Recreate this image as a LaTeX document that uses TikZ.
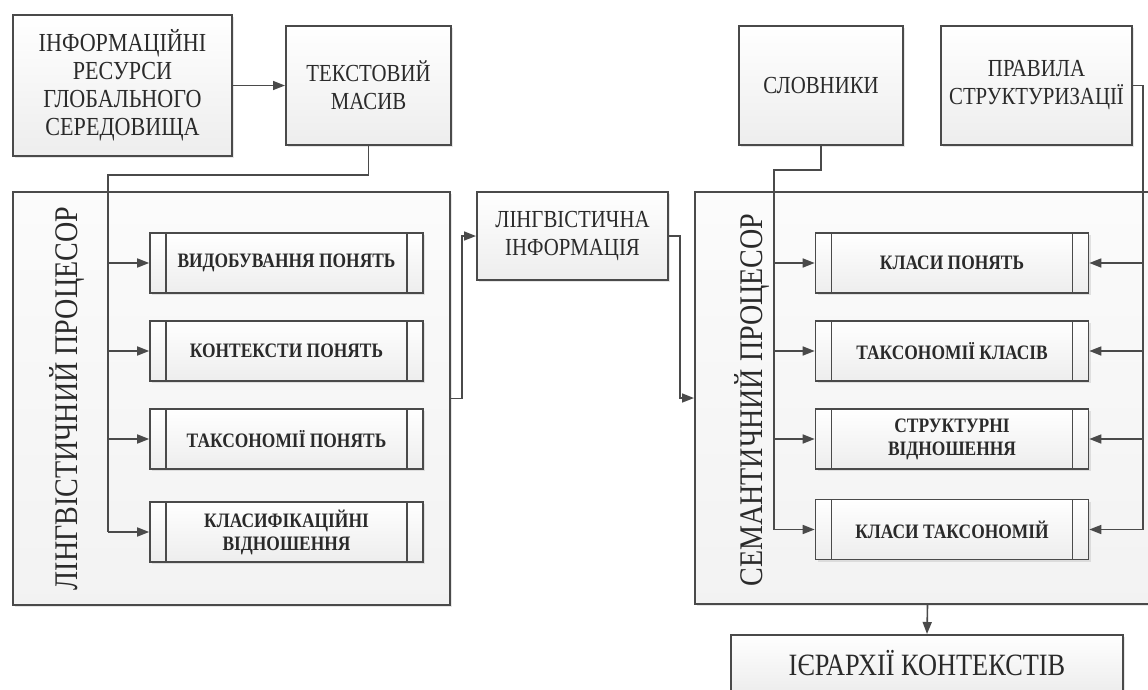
\documentclass[tikz,border=0pt]{standalone}
\usepackage{fontspec}
\setmainfont[FakeStretch=0.85]{Liberation Serif}
\usetikzlibrary{positioning, arrows.meta, shadows}

\definecolor{linegray}{HTML}{4A4A4A}
\definecolor{textgray}{HTML}{2A2A2A}

\begin{document}
\begin{tikzpicture}[
    x=1pt, y=-1pt,
    block/.style={
        rectangle,
        draw=linegray,
        line width=2pt,
        top color=white,
        bottom color=gray!14,
        drop shadow={opacity=0.2, shadow xshift=2pt, shadow yshift=-2pt},
        text=textgray,
        align=center,
        inner sep=2pt,
        font=\fontsize{24.5}{28}\selectfont
    },
    frame/.style={
        rectangle,
        draw=linegray,
        line width=2pt,
        top color=gray!3,
        bottom color=gray!10,
        drop shadow={opacity=0.2, shadow xshift=2pt, shadow yshift=-2pt}
    },
    process/.style={
        block,
        line width=1.6pt,
        minimum width=273, minimum height=60,
        font=\fontsize{20.5}{23}\selectfont\bfseries,
        path picture={
            \draw[linegray, line width=1.4pt]
                ([xshift=16pt]path picture bounding box.north west) -- ([xshift=16pt]path picture bounding box.south west)
                ([xshift=-16pt]path picture bounding box.north east) -- ([xshift=-16pt]path picture bounding box.south east);
        }
    },
    vtitle/.style={rotate=90, text=textgray, font=\fontsize{33}{35}\selectfont},
    wire/.style={line width=1.6pt, draw=linegray},
    arrow/.style={wire, -{Triangle[length=12pt, width=9pt]}}
]
\useasboundingbox (0,0) rectangle (1148,689);

% === Top row: sources ===
\node[block, minimum width=219, minimum height=141, font=\fontsize{26}{28}\selectfont] (info) at (122.5, 85.5) {ІНФОРМАЦІЙНІ\\РЕСУРСИ\\ГЛОБАЛЬНОГО\\СЕРЕДОВИЩА};
\node[block, minimum width=165, minimum height=119] (txt) at (368.5, 85.5) {ТЕКСТОВИЙ\\МАСИВ};
\node[block, minimum width=164, minimum height=119] (dict) at (821, 85.5) {СЛОВНИКИ};
\node[block, minimum width=191, minimum height=119] (rules) at (1036.5, 85.5) {ПРАВИЛА\\СТРУКТУРИЗАЦІЇ};

% === Linguistic processor ===
\node[frame, minimum width=437, minimum height=413] (lproc) at (231.5, 398.5) {};
\node[vtitle] (ltitle) at (67, 398.5) {ЛІНГВІСТИЧНИЙ ПРОЦЕСОР};
\node[process] (l1) at (286.5, 263) {ВИДОБУВАННЯ ПОНЯТЬ};
\node[process] (l2) at (286.5, 351) {КОНТЕКСТИ ПОНЯТЬ};
\node[process] (l3) at (286.5, 439) {ТАКСОНОМІЇ ПОНЯТЬ};
\node[process] (l4) at (286.5, 532) {КЛАСИФІКАЦІЙНІ\\ВІДНОШЕННЯ};

\node[block, minimum width=191, minimum height=88] (linfo) at (572.5, 236) {ЛІНГВІСТИЧНА\\ІНФОРМАЦІЯ};

% === Semantic processor ===
\node[frame, minimum width=465, minimum height=412] (sproc) at (927.5, 398) {};
\node[vtitle] (stitle) at (752, 400) {СЕМАНТИЧНИЙ ПРОЦЕСОР};
\node[process] (s1) at (952, 263) {КЛАСИ ПОНЯТЬ};
\node[process] (s2) at (952, 351) {ТАКСОНОМІЇ КЛАСІВ};
\node[process] (s3) at (952, 439) {СТРУКТУРНІ\\ВІДНОШЕННЯ};
\node[process] (s4) at (952, 529.5) {КЛАСИ ТАКСОНОМІЙ};

\node[block, minimum width=392, minimum height=56, font=\fontsize{31}{33}\selectfont] (hier) at (927, 663) {ІЄРАРХІЇ КОНТЕКСТІВ};

% === Connectors ===
\coordinate (lbus) at (108, 175);
\coordinate (rbus) at (774, 170);
\coordinate (rrbus) at (1143, 85.5);

\draw[arrow] (info.east) -- (txt.west);

\draw[wire] (txt.south) |- (lbus) -- (lbus |- l4.west);
\draw[arrow] (lbus |- l1.west) -- (l1.west);
\draw[arrow] (lbus |- l2.west) -- (l2.west);
\draw[arrow] (lbus |- l3.west) -- (l3.west);
\draw[arrow] (lbus |- l4.west) -- (l4.west);

\draw[arrow] (lproc.east) -- ++(11,0) |- (linfo.west);
\draw[arrow] (linfo.east) -- ++(11,0) |- (sproc.west);

\draw[wire] (dict.south) |- (rbus) -- (rbus |- s4.west);
\draw[arrow] (rbus |- s1.west) -- (s1.west);
\draw[arrow] (rbus |- s2.west) -- (s2.west);
\draw[arrow] (rbus |- s3.west) -- (s3.west);
\draw[arrow] (rbus |- s4.west) -- (s4.west);

\draw[wire] (rules.east) -- (rrbus) -- (rrbus |- s4.east);
\draw[arrow] (rrbus |- s1.east) -- (s1.east);
\draw[arrow] (rrbus |- s2.east) -- (s2.east);
\draw[arrow] (rrbus |- s3.east) -- (s3.east);
\draw[arrow] (rrbus |- s4.east) -- (s4.east);

\draw[arrow] (sproc.south) -- (hier.north);

\end{tikzpicture}
\end{document}
